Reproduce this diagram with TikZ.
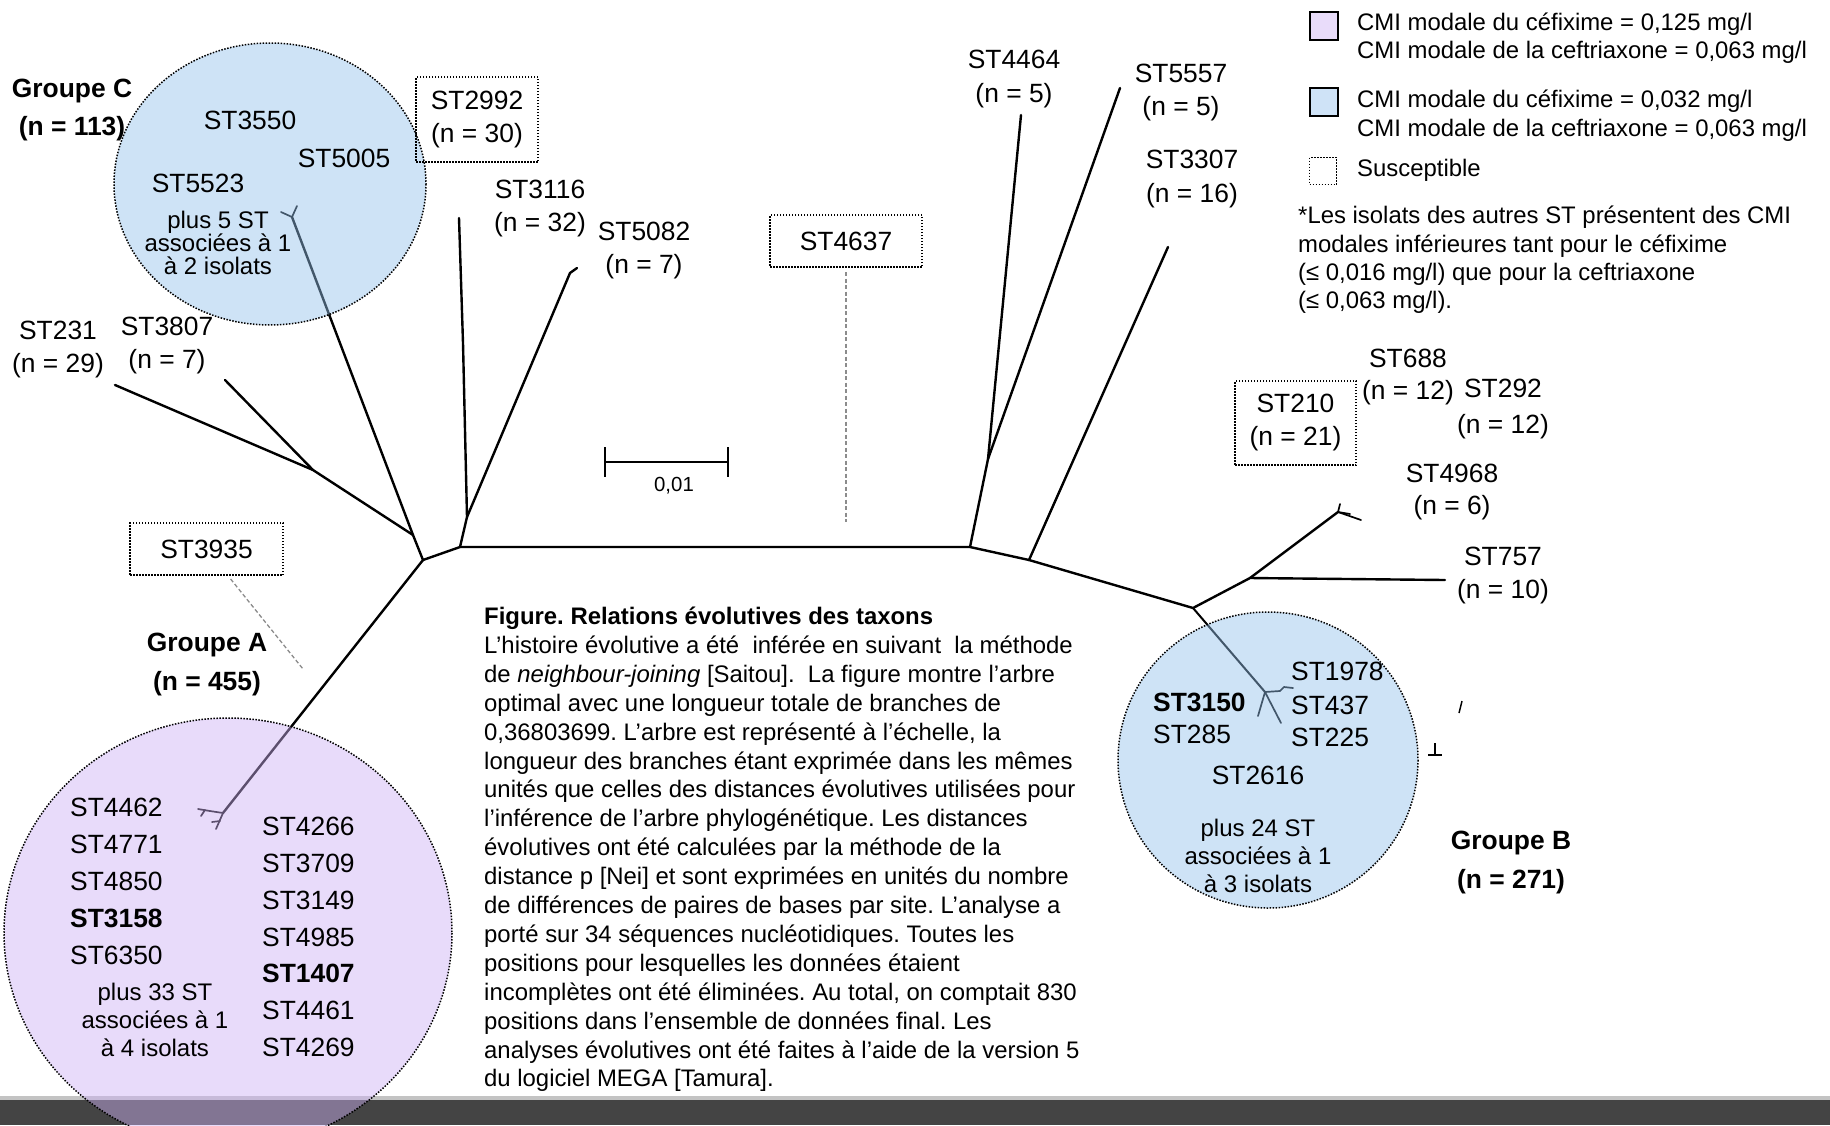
\documentclass[tikz,border=0pt]{standalone}
\usepackage{fontspec}
\setmainfont{Liberation Sans}
\usetikzlibrary{calc}
\definecolor{lav}{RGB}{206,177,244}
\definecolor{sky}{RGB}{148,193,237}
\definecolor{lavL}{RGB}{233,220,250}
\definecolor{skyL}{RGB}{207,227,247}
\definecolor{bandgray}{RGB}{68,68,68}
\definecolor{bandline}{RGB}{195,195,195}
\definecolor{leadgray}{RGB}{140,140,140}
\frenchspacing
\begin{document}
\begin{tikzpicture}[x=1pt,y=-1pt,
  br/.style={line width=2.4pt,line join=round,line cap=round},
  twig/.style={line width=1.7pt,line join=round,line cap=round},
  lead/.style={draw=leadgray,line width=1.3pt,dash pattern=on 4pt off 2.5pt},
  dotline/.style={dash pattern=on 1.5pt off 1.5pt,line width=1.5pt},
  lbl/.style={inner sep=0,align=center,font=\fontsize{26.4}{33}\selectfont},
  lblw/.style={inner sep=0,anchor=west,font=\fontsize{26.4}{33}\selectfont},
  grp/.style={inner sep=0,align=center,font=\bfseries\fontsize{26.4}{38}\selectfont},
  clnote/.style={inner sep=0,align=center,font=\fontsize{24}{28}\selectfont},
  susbox/.style={draw,dotline,inner sep=0,align=center,font=\fontsize{26.4}{33}\selectfont},
  legtext/.style={inner sep=0,anchor=west,align=left,font=\fontsize{23.9}{28.3}\selectfont},
  capline/.style={inner sep=0,anchor=base west,font=\fontsize{23.9}{28.9}\selectfont},
  clus/.style={draw,dotline,fill opacity=0.45}]
\useasboundingbox (0,0) rectangle (1830,1125);
\fill[white] (0,0) rectangle (1830,1125);

% ---- tree coordinates
\coordinate (n1) at (423,560);
\coordinate (n2) at (413,535);
\coordinate (n3) at (313,470);
\coordinate (n4) at (460,547);
\coordinate (n5) at (467,517);
\coordinate (n6) at (970,547);
\coordinate (n7) at (988,459);
\coordinate (n8) at (1029,560);
\coordinate (n9) at (1193,608);
\coordinate (n10) at (1250,578);
\coordinate (fA) at (223,813);
\coordinate (fB) at (1265,692);
\coordinate (fC) at (292,217);
\coordinate (t231) at (115,385);
\coordinate (t3807) at (225,380);
\coordinate (t3116) at (459,218);
\coordinate (k3116) at (463,343);
\coordinate (t5082) at (577,268);
\coordinate (k5082) at (570,273);
\coordinate (t4464) at (1021,115);
\coordinate (t5557) at (1120,88);
\coordinate (t3307) at (1168,247);
\coordinate (t4968) at (1338,512);
\coordinate (t757) at (1445,580);

% ---- branches
\draw[br] (n1) -- (n4) -- (n6) -- (n8) -- (n9) -- (n10) -- (t757);
\draw[br] (n1) -- (n2) -- (fC);
\draw[br] (n2) -- (n3) -- (t231);
\draw[br] (n3) -- (t3807);
\draw[br] (n1) -- (fA);
\draw[br] (n4) -- (n5) -- (k3116) -- (t3116);
\draw[br] (n5) -- (k5082) -- (t5082);
\draw[br] (n6) -- (n7) -- (t4464);
\draw[br] (n7) -- (t5557);
\draw[br] (n8) -- (t3307);
\draw[br] (n10) -- (t4968);
\draw[twig,line width=2pt] (n9) -- (fB);
% twigs
\draw[twig] (fC) -- (281,212);
\draw[twig] (fC) -- (297,206);
\draw[twig] (fA) -- (210,811) -- (198,809);
\draw[twig] (205,810) -- (201,816);
\draw[twig] (fA) -- (216,829);
\draw[twig] (220,821) -- (212,822);
\draw[twig] (fB) -- (1280,691) -- (1284,687) -- (1293,688);
\draw[twig] (fB) -- (1258,716);
\draw[twig] (fB) -- (1281,723);
\draw[twig] (t4968) -- (1340,504);
\draw[twig] (t4968) -- (1361,520);
\draw[twig] (t4968) -- (1350,514);
% stray marks
\draw[line width=1.5pt] (1462,701) -- (1459,713);
\draw[line width=2pt] (1435,743) -- (1435,755) (1428,755) -- (1442,755);

% ---- scale bar
\coordinate (sL) at (605,462);
\coordinate (sR) at (728,462);
\draw[br,line cap=butt] (sL) -- (sR);
\draw[br,line cap=butt] ($(sL)+(0,-15)$) -- ($(sL)+(0,15)$);
\draw[br,line cap=butt] ($(sR)+(0,-15)$) -- ($(sR)+(0,15)$);
\node[inner sep=0,font=\fontsize{20.4}{24}\selectfont] (scl) at (674,486) {0,01};

% ---- bottom band
\fill[bandline] (0,1096) rectangle (1830,1100);
\fill[bandgray] (0,1100) rectangle (1830,1125);

% ---- clusters (semi-transparent)
\begin{scope}
\clip (0,0) rectangle (1830,1125);
\draw[clus,fill=lav] (228,933) ellipse [x radius=224, y radius=215];
\end{scope}
\draw[clus,fill=sky] (270,184) ellipse [x radius=156, y radius=141];
\draw[clus,fill=sky] (1268,760) ellipse [x radius=150, y radius=148];

% ---- susceptible boxes and leaders
\node[susbox,minimum width=122,minimum height=85] (b2992) at (477,119.5) {ST2992\\(n = 30)};
\node[susbox,minimum width=152,minimum height=52] (b4637) at (846,241) {ST4637};
\node[susbox,minimum width=153,minimum height=52] (b3935) at (206.5,549) {ST3935};
\node[susbox,minimum width=121,minimum height=84] (b210) at (1295.5,423) {ST210\\(n = 21)};
\coordinate (e4637) at (846,522);
\coordinate (e3935) at (303,669);
\draw[lead,shorten <=31pt] (b4637.center) -- (e4637);
\draw[lead,shorten <=38.5pt] (b3935.center) -- (e3935);

% ---- group C
\node[grp] (gC) at (72,110) {Groupe C\\(n = 113)};
\node[lbl] (l3550) at (250,120) {ST3550};
\node[lbl] (l5005) at (344,158) {ST5005};
\node[lbl] (l5523) at (198,183) {ST5523};
\node[clnote,font=\fontsize{24}{23}\selectfont] (nC) at (218,243) {plus 5 ST\\associées à 1\\à 2 isolats};

% ---- other leaves
\node[lbl] (l3116) at (540,209) {ST3116\\(n = 32)};
\node[lbl] (l5082) at (644,251) {ST5082\\(n = 7)};
\node[lbl] (l231) at (58,350) {ST231\\(n = 29)};
\node[lbl] (l3807) at (167,345.5) {ST3807\\(n = 7)};
\node[lbl,font=\fontsize{26.4}{34}\selectfont] (l4464) at (1014,79.5) {ST4464\\(n = 5)};
\node[lbl] (l5557) at (1181,93) {ST5557\\(n = 5)};
\node[lbl,font=\fontsize{26.4}{34}\selectfont] (l3307) at (1192,179.5) {ST3307\\(n = 16)};
\node[lbl,font=\fontsize{26.4}{32}\selectfont] (l688) at (1408,377.5) {ST688\\(n = 12)};
\node[lbl,font=\fontsize{26.4}{36}\selectfont] (l292) at (1503,409.5) {ST292\\(n = 12)};
\node[lbl,font=\fontsize{26.4}{32}\selectfont] (l4968) at (1452,492.5) {ST4968\\(n = 6)};
\node[lbl] (l757) at (1503,576) {ST757\\(n = 10)};

% ---- group B
\node[lblw] (l1978) at (1291,671) {ST1978};
\node[lblw] (l437) at (1291,705) {ST437};
\node[lblw] (l225) at (1291,737) {ST225};
\node[lblw,font=\bfseries\fontsize{26.4}{33}\selectfont] (l3150) at (1153,702) {ST3150};
\node[lblw] (l285) at (1153,734) {ST285};
\node[lbl] (l2616) at (1258,775) {ST2616};
\node[clnote] (nB) at (1258,856) {plus 24 ST\\associées à 1\\à 3 isolats};
\node[grp,font=\bfseries\fontsize{26.4}{39}\selectfont] (gB) at (1511,863) {Groupe B\\(n = 271)};

% ---- group A
\node[grp,font=\bfseries\fontsize{26.4}{39}\selectfont] (gA) at (207,665) {Groupe A\\(n = 455)};
\foreach \s/\w [count=\i from 0] in {ST4462/,ST4771/,ST4850/,ST3158/\bfseries,ST6350/}
  \node[lblw,font=\w\fontsize{26.4}{33}\selectfont] (aL\i) at (70,807.7+36.9*\i) {\s};
\foreach \s/\w [count=\i from 0] in {ST4266/,ST3709/,ST3149/,ST4985/,ST1407/\bfseries,ST4461/,ST4269/}
  \node[lblw,font=\w\fontsize{26.4}{33}\selectfont] (aR\i) at (262,826.8+36.7*\i) {\s};
\node[clnote] (nA) at (155,1020) {plus 33 ST\\associées à 1\\à 4 isolats};

% ---- legend
\node[draw,line width=2pt,fill=lavL,minimum width=28,minimum height=28,inner sep=0] (kA) at (1323.5,26) {};
\node[draw,line width=2pt,fill=skyL,minimum width=28,minimum height=28,inner sep=0] (kB) at (1323.5,101.5) {};
\node[draw,dotline,minimum width=27,minimum height=27,inner sep=0] (kS) at (1323,171) {};
\node[legtext,font=\fontsize{23.9}{28}\selectfont] (tA) at (1357,38.5) {CMI modale du céfixime = 0,125 mg/l\\CMI modale de la ceftriaxone = 0,063 mg/l};
\node[legtext,font=\fontsize{23.9}{29}\selectfont] (tB) at (1357,116) {CMI modale du céfixime = 0,032 mg/l\\CMI modale de la ceftriaxone = 0,063 mg/l};
\node[legtext] (tS) at (1357,170) {Susceptible};
\node[legtext] (tF) at (1298,260) {*Les isolats des autres ST présentent des CMI\\modales inférieures tant pour le céfixime\\(≤ 0,016 mg/l) que pour la ceftriaxone\\(≤ 0,063 mg/l).};

% ---- caption
\foreach \ln [count=\i from 0] in {
  {\textbf{Figure. Relations évolutives des taxons}},
  {L’histoire évolutive a été\ \ inférée en suivant\ \ la méthode},
  {de \textit{neighbour-joining} [Saitou].\ \ La figure montre l’arbre},
  {optimal avec une longueur totale de branches de},
  {0,36803699. L’arbre est représenté à l’échelle, la},
  {longueur des branches étant exprimée dans les mêmes},
  {unités que celles des distances évolutives utilisées pour},
  {l’inférence de l’arbre phylogénétique. Les distances},
  {évolutives ont été calculées par la méthode de la},
  {distance p [Nei] et sont exprimées en unités du nombre},
  {de différences de paires de bases par site. L’analyse a},
  {porté sur 34 séquences nucléotidiques. Toutes les},
  {positions pour lesquelles les données étaient},
  {incomplètes ont été éliminées. Au total, on comptait 830},
  {positions dans l’ensemble de données final. Les},
  {analyses évolutives ont été faites à l’aide de la version 5},
  {du logiciel MEGA [Tamura].}}
  \node[capline] (cap\i) at (484,624.5+28.9*\i) {\ln};
\end{tikzpicture}
\end{document}
